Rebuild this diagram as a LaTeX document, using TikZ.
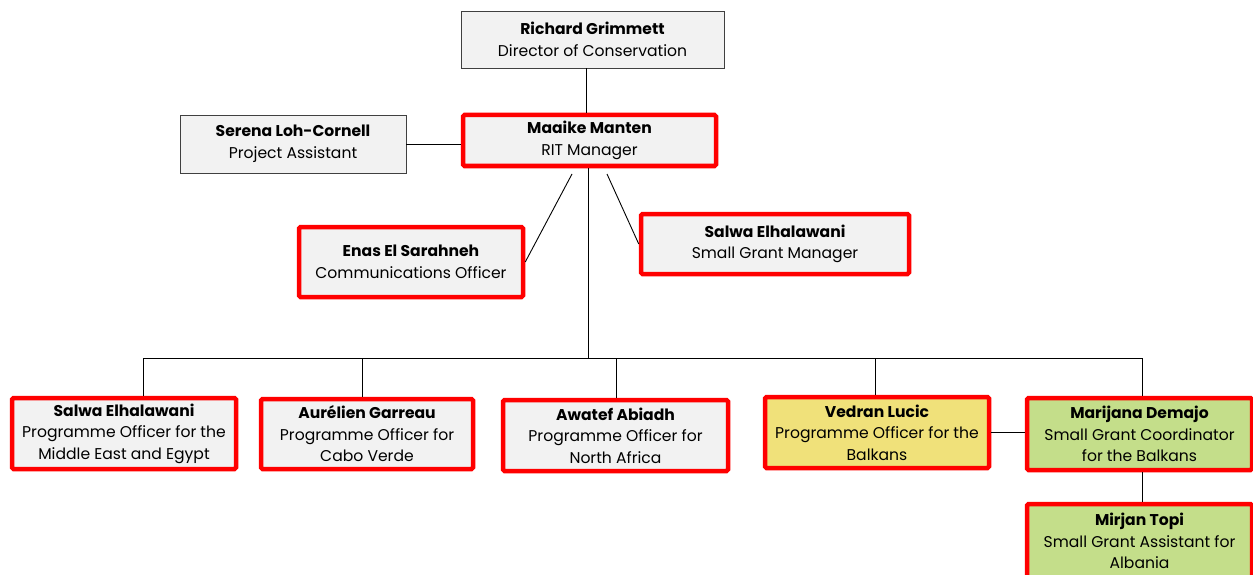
\documentclass[tikz,border=0pt]{standalone}
\usepackage{fontspec}
\setmainfont{Poppins}
\usepackage{xcolor}
\usepackage{tikz}
\usetikzlibrary{calc,positioning}
\definecolor{boxGray}{RGB}{242,242,242}
\definecolor{boxEdge}{RGB}{64,64,64}
\definecolor{boxRed}{RGB}{255,0,0}
\definecolor{boxYellow}{RGB}{240,225,122}
\definecolor{boxGreen}{RGB}{196,222,138}

\tikzset{
  plainbox/.style={draw=boxEdge, line width=0.8pt, fill=boxGray, align=center,
    inner sep=0pt, font=\fontsize{15.6}{21.5}\selectfont},
  redbox/.style={plainbox, draw=boxRed, line width=4.5pt, rounded corners=1.5pt},
  link/.style={black, line width=0.9pt}
}

\begin{document}
\begin{tikzpicture}[x=1pt,y=-1pt]
    \useasboundingbox (0,0) rectangle (1253,575);

    % top
    \node[plainbox, minimum width=263, minimum height=57] (richard) at (592.5,39.5)
        {\textbf{Richard Grimmett}\\Director of Conservation};
    \node[redbox, minimum width=253, minimum height=51] (maaike) at (589.5,140.5)
        {\textbf{Maaike Manten}\\RIT Manager};
    \node[plainbox, minimum width=226, minimum height=58] (serena) at (293,144)
        {\textbf{Serena Loh-Cornell}\\Project Assistant};

    % middle
    \node[redbox, minimum width=224, minimum height=70] (enas) at (411,262)
        {\textbf{Enas El Sarahneh}\\Communications Officer};
    \node[redbox, minimum width=268, minimum height=60] (grants) at (775,244)
        {\textbf{Salwa Elhalawani}\\Small Grant Manager};

    % programme officers
    \node[redbox, minimum width=224, minimum height=71] (salwa) at (124,433.5)
        {\textbf{Salwa Elhalawani}\\Programme Officer for the\\Middle East and Egypt};
    \node[redbox, minimum width=212, minimum height=70] (aurelien) at (367,434)
        {\textbf{Aurélien Garreau}\\Programme Officer for\\Cabo Verde};
    \node[redbox, minimum width=225, minimum height=71] (awatef) at (615.5,435.5)
        {\textbf{Awatef Abiadh}\\Programme Officer for\\North Africa};
    \node[redbox, fill=boxYellow, minimum width=224, minimum height=71] (vedran) at (877,432.5)
        {\textbf{Vedran Lucic}\\Programme Officer for the\\Balkans};
    \node[redbox, fill=boxGreen, minimum width=225, minimum height=72] (marijana) at (1139.5,434)
        {\textbf{Marijana Demajo}\\Small Grant Coordinator\\for the Balkans};
    \node[redbox, fill=boxGreen, minimum width=225, minimum height=74] (mirjan) at (1139.5,541)
        {\textbf{Mirjan Topi}\\Small Grant Assistant for\\Albania};

    % links
    \coordinate (bus) at (588,358);
    \draw[link] (richard.south -| 586,0) -- (maaike.north -| 586,0);
    \draw[link] (serena.east) -- (serena.east -| maaike.west);
    \draw[link] (572,174) -- (enas.east);
    \draw[link] (607,174) -- (grants.west);
    \draw[link] (maaike.south -| bus) -- (bus);
    \draw[link] (143,358) -- (1142,358);
    \foreach \xpos/\who in {143/salwa, 362/aurelien, 616/awatef, 875/vedran, 1142/marijana}
        \draw[link] (\xpos,358) -- (\who.north -| \xpos,358);
    \draw[link] (vedran.east) -- (vedran.east -| marijana.west);
    \draw[link] (marijana.south -| 1142,0) -- (mirjan.north -| 1142,0);
\end{tikzpicture}
\end{document}
